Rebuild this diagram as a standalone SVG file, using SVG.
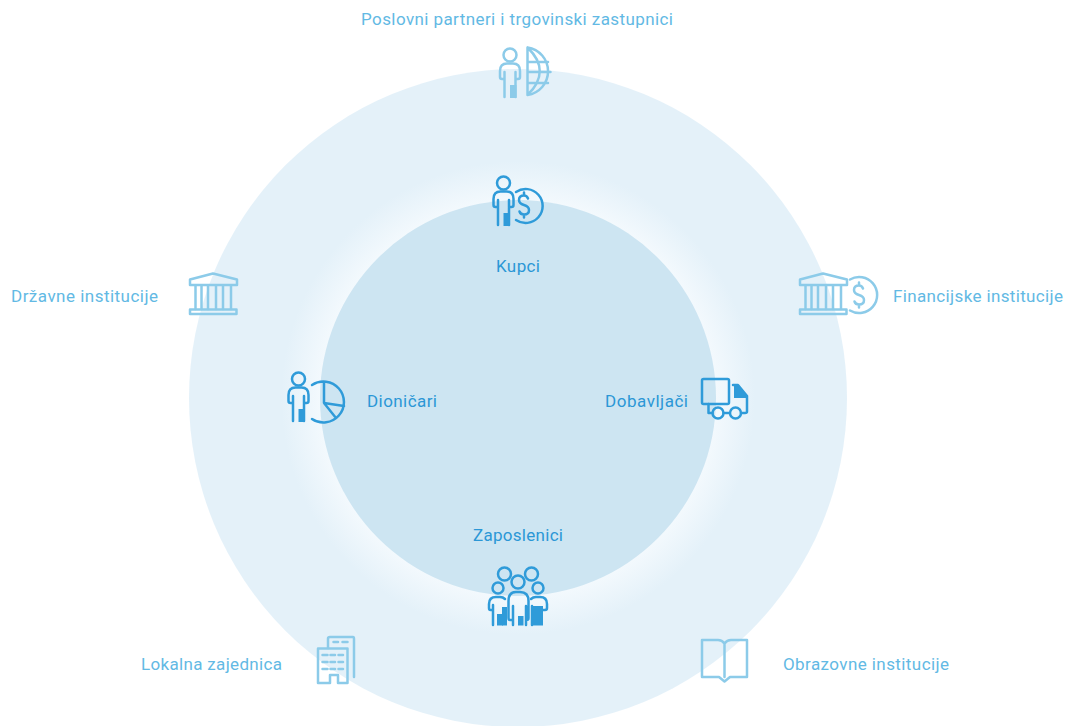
<svg xmlns="http://www.w3.org/2000/svg" width="1068" height="726" viewBox="0 0 1068 726">
<style>
text{font-family:"Roboto","Liberation Sans",sans-serif;font-size:17px;fill:currentColor}
.o{color:#62b9e4}
.i{color:#2b97d6}
.s{fill:none;stroke-width:2.5;stroke-linecap:round;stroke-linejoin:round}
.o .s,.o use{stroke:#8ccbe9}
.i .s,.i use{stroke:#2f9bd9}
.u{fill:none;stroke:inherit;stroke-width:2.5;stroke-linecap:round;stroke-linejoin:round}
.o .f,.o use{fill:#8ccbe9}
.i .f,.i use{fill:#2f9bd9}
</style>
<defs>
<radialGradient id="glow" gradientUnits="userSpaceOnUse" cx="518" cy="398" r="329">
<stop offset="0.6" stop-color="#f3f9fd"/>
<stop offset="0.72" stop-color="#e4f1f9"/>
<stop offset="1" stop-color="#e4f1f9"/>
</radialGradient>
<g id="person">
<circle class="u" cx="0" cy="0" r="6.5"/>
<path class="u" d="M-5.5,24H-8Q-10,24 -10,22V16Q-10,8.500 -3,8.500H3Q10,8.500 10,16V22Q10,24 8,24H5.500M-5.500,17V42M5.500,17V42"/>
<rect x="0" y="30" width="6.500" height="13" stroke="none"/>
</g>
<g id="bank">
<path class="u" d="M190,279.500L213,273.500L237,279.500V285H190ZM195.500,285V309M201.500,285V309M208,285V309M216,285V309M223,285V309M231,285V309"/>
<rect class="u" x="190" y="309.500" width="46.500" height="4.500"/>
</g>
<g id="dollar">
<path class="u" d="M4,-6.500Q3,-9.500 0,-9.500Q-5,-9.500 -5,-5Q-5,-1.500 0,0Q5,1.500 5,5Q5,9.500 0,9.500Q-3.500,9.500 -4.500,6.500M0,-12.500V-9.500M0,9.500V12.500"/>
</g>
</defs>
<g id="rings">
<circle cx="518" cy="398" r="329" fill="url(#glow)"/>
<circle cx="518" cy="398" r="198" fill="#cde5f2"/>
</g>
<g id="connectors"/>
<g id="partneri" class="o">
<text x="361" y="25" textLength="312">Poslovni partneri i trgovinski zastupnici</text>
<use href="#person" x="510" y="55"/>
<path class="s" d="M527.500,47.500A24,24 0 0 1 527.500,95ZM527.500,47.500Q552,71 527.500,95M528,62H548M528,72H550.500M528,83H548"/>
</g>
<g id="kupci" class="i">
<text x="496" y="272" textLength="44">Kupci</text>
<use href="#person" x="503.500" y="183"/>
<path class="s" d="M516,192A17,17 0 1 1 516,220"/>
<use href="#dollar" x="524" y="205"/>
</g>
<g id="drzavne" class="o">
<text x="11" y="302" textLength="147">Državne institucije</text>
<use href="#bank"/>
</g>
<g id="financijske" class="o">
<text x="893" y="302" textLength="170">Financijske institucije</text>
<use href="#bank" x="610"/>
<path class="s" d="M850,279.500A18,18 0 1 1 850,310.500"/>
<use href="#dollar" x="859" y="295"/>
</g>
<g id="dionicari" class="i">
<text x="367" y="407" textLength="70">Dioničari</text>
<use href="#person" x="298.500" y="379"/>
<path class="s" d="M312,385A20.500,20.500 0 1 1 312,419M324,383V403L344,406M324,403L336,418"/>
</g>
<g id="dobavljaci" class="i">
<text x="605" y="407" textLength="83">Dobavljači</text>
<rect class="s" x="702" y="379" width="27" height="25" rx="1.500"/>
<path class="f" d="M734,385H738L747,396V398H734Z"/>
<path class="s" d="M733,385H738L747,396V411.500Q747,413 745,413H741M729.500,413H723.500M712.500,413H708.500V404"/>
<circle class="s" cx="718" cy="413" r="5.500"/>
<circle class="s" cx="735.500" cy="413" r="5.500"/>
</g>
<g id="zaposlenici" class="i">
<text x="473" y="541" textLength="90">Zaposlenici</text>
<circle class="s" cx="504.500" cy="574" r="6.500"/>
<circle class="s" cx="531.500" cy="574" r="6.500"/>
<circle class="s" cx="498" cy="588" r="5.500"/>
<circle class="s" cx="518" cy="582" r="6.500"/>
<circle class="s" cx="538" cy="588" r="5.500"/>
<path class="s" d="M493,610H490.500Q489,610 489,608V604Q489,597 496,597H500Q503,597 505,599M493,605V625"/>
<rect class="f" x="497" y="614" width="6" height="11.500"/>
<rect class="f" x="502" y="607" width="5" height="18.500"/>
<path class="s" d="M513,620H510Q508.500,620 508.500,618V601Q508.500,592 516,592H520Q528.500,592 528.500,601V618Q528.500,620 526.500,620M513,606V625M526,606V625"/>
<rect class="f" x="518" y="616" width="5.500" height="9.500"/>
<path class="s" d="M531,599Q533,597 536,597H540Q547,597 547,604V608Q547,610 545,610H543M532,606V625"/>
<rect class="f" x="533" y="606" width="10" height="19.500"/>
</g>
<g id="lokalna" class="o">
<text x="141" y="670" textLength="141">Lokalna zajednica</text>
<path class="s" d="M318,648.500H347.500V683H338V675H330V683H318Z"/>
<path class="s" d="M328,648V638.500Q328,637 330,637H353Q354,637 354,639V677"/>
<path class="s" d="M322.500,655H327.500M330.500,655H335M338.500,655H343M322.500,662H327.500M330.500,662H335M338.500,662H343M322.500,669H327.500M330.500,669H335M338.500,669H343M333.500,642H338M342.500,642H347.500"/>
</g>
<g id="obrazovne" class="o">
<text x="783" y="670" textLength="166">Obrazovne institucije</text>
<path class="s" d="M702,640H718Q722,640 724.500,643.500Q727,640 731,640H747V677H730L724.500,681.500L719,677H702ZM724.500,643.500V677"/>
</g>
</svg>
